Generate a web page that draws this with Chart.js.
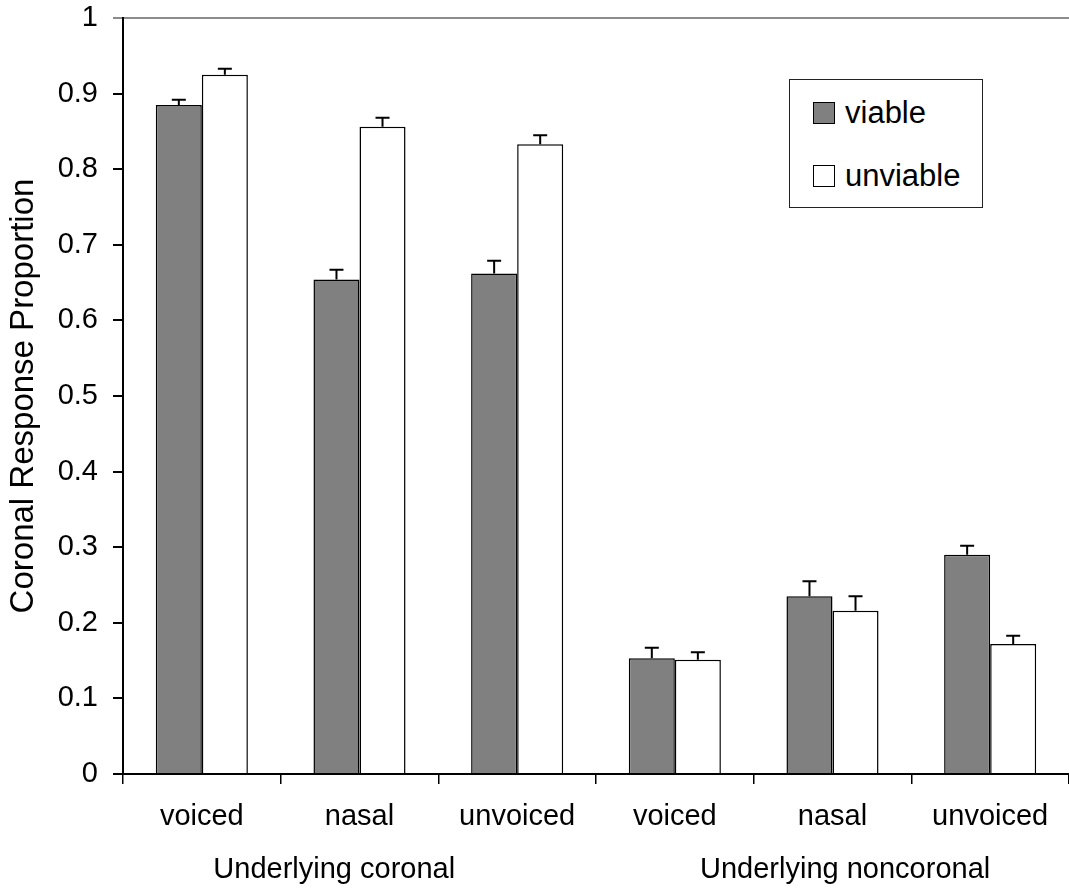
<!DOCTYPE html>
<html>
<head>
<meta charset="utf-8">
<script src="https://cdn.jsdelivr.net/npm/chart.js@4/dist/chart.umd.min.js"></script>
<style>
  html, body { margin: 0; padding: 0; background: #fff; }
  #wrap { position: relative; width: 1069px; height: 890px; }
  #legend {
    position: absolute; left: 789px; top: 79px; width: 194px; height: 129px;
    box-sizing: border-box; border: 1px solid #222; background: #fff;
    font-family: 'Liberation Sans', Arial, sans-serif; font-size: 31px; color: #000;
  }
  #legend .row { position: absolute; left: 23px; height: 36px; line-height: 36px; white-space: nowrap; }
  #legend .sw { display: inline-block; width: 20px; height: 20px; border: 1px solid #000; vertical-align: middle; margin-right: 10px; position: relative; top: -2px; }
</style>
</head>
<body>
<div id="wrap">
  <canvas id="canvas" width="1069" height="890"></canvas>
  <div id="legend"></div>
</div>
<script>
'use strict';

var categories = ['voiced', 'nasal', 'unvoiced', 'voiced', 'nasal', 'unvoiced'];
var groupLabels = ['Underlying coronal', 'Underlying noncoronal'];
var viable = [0.885, 0.654, 0.662, 0.153, 0.235, 0.290];
var viableErr = [0.007, 0.013, 0.017, 0.014, 0.020, 0.012];
var unviable = [0.925, 0.856, 0.833, 0.151, 0.216, 0.172];
var unviableErr = [0.008, 0.012, 0.012, 0.010, 0.019, 0.011];
var yTicks = [0, 0.1, 0.2, 0.3, 0.4, 0.5, 0.6, 0.7, 0.8, 0.9, 1];

var FONT = "'Liberation Sans', Arial, sans-serif";

// upper error bars, drawn from the bar tops
var errorBars = {
    id: 'errorBars',
    afterDatasetsDraw: function (chart) {
        var ctx = chart.ctx, yScale = chart.scales.y;
        ctx.save();
        ctx.strokeStyle = '#000';
        ctx.lineWidth = 2;
        chart.data.datasets.forEach(function (ds, i) {
            var meta = chart.getDatasetMeta(i);
            meta.data.forEach(function (bar, j) {
                var top = yScale.getPixelForValue(ds.data[j] + ds.errors[j]);
                ctx.beginPath();
                ctx.moveTo(bar.x, bar.y);
                ctx.lineTo(bar.x, top);
                ctx.moveTo(bar.x - 7, top);
                ctx.lineTo(bar.x + 7, top);
                ctx.stroke();
            });
        });
        ctx.restore();
    }
};

// second row of x labels (the two groups)
var groupRow = {
    id: 'groupRow',
    afterDraw: function (chart, args, opts) {
        var ctx = chart.ctx, xScale = chart.scales.x;
        ctx.save();
        ctx.font = '29px ' + FONT;
        ctx.fillStyle = '#000';
        ctx.textAlign = 'center';
        ctx.textBaseline = 'alphabetic';
        groupLabels.forEach(function (label, i) {
            ctx.fillText(label, xScale.getPixelForValue(opts.at[i]), opts.baseline);
        });
        ctx.restore();
    }
};

var chart = new Chart(document.getElementById('canvas').getContext('2d'), {
    type: 'bar',
    data: {
        labels: categories,
        datasets: [{
            label: 'viable',
            data: viable,
            errors: viableErr,
            backgroundColor: '#808080',
            borderColor: '#000',
            borderWidth: 1.5,
            borderSkipped: 'start'
        }, {
            label: 'unviable',
            data: unviable,
            errors: unviableErr,
            backgroundColor: '#ffffff',
            borderColor: '#000',
            borderWidth: 1.5,
            borderSkipped: 'start'
        }]
    },
    options: {
        responsive: false,
        animation: false,
        layout: { padding: { top: 0, right: 0, bottom: 0, left: 0 } },
        datasets: {
            bar: { categoryPercentage: 0.584, barPercentage: 1.0 }
        },
        scales: {
            x: {
                grid: {
                    offset: true,
                    drawOnChartArea: false,
                    tickLength: 10,
                    color: '#000',
                    lineWidth: 1.5
                },
                border: { color: '#000', width: 2 },
                ticks: {
                    font: { family: FONT, size: 29 },
                    color: '#000',
                    padding: 16,
                    maxRotation: 0,
                    autoSkip: false
                },
                afterFit: function (scale) { scale.height = 116; }
            },
            y: {
                min: 0,
                max: 1,
                afterBuildTicks: function (scale) {
                    scale.ticks = yTicks.map(function (v) { return { value: v }; });
                },
                grid: {
                    color: function (c) { return c.tick && c.tick.value === 1 ? '#8c8c8c' : 'rgba(0,0,0,0)'; },
                    tickColor: function (c) { return c.tick && c.tick.value === 1 ? '#8c8c8c' : '#000'; },
                    lineWidth: 2,
                    tickLength: 10
                },
                border: { color: '#000', width: 2 },
                ticks: {
                    font: { family: FONT, size: 29 },
                    color: '#000',
                    padding: 15,
                    callback: function (v) { return (v === 0 || v === 1) ? String(v) : v.toFixed(1); }
                },
                title: {
                    display: true,
                    text: 'Coronal Response Proportion',
                    font: { family: FONT, size: 33 },
                    color: '#000',
                    padding: { top: 4, bottom: 0 }
                },
                afterFit: function (scale) {
                    scale.width = 123;
                    scale.paddingTop = 18;
                }
            }
        },
        plugins: {
            legend: { display: false },
            tooltip: { enabled: false },
            groupRow: { at: [0.84, 4.08], baseline: 878 }
        }
    },
    plugins: [errorBars, groupRow]
});

// html legend built from the datasets
var legend = document.getElementById('legend');
chart.data.datasets.forEach(function (ds, i) {
    var row = document.createElement('div');
    row.className = 'row';
    row.style.top = (15 + i * 63) + 'px';
    var sw = document.createElement('span');
    sw.className = 'sw';
    sw.style.background = ds.backgroundColor;
    row.appendChild(sw);
    row.appendChild(document.createTextNode(ds.label));
    legend.appendChild(row);
});
</script>
</body>
</html>
